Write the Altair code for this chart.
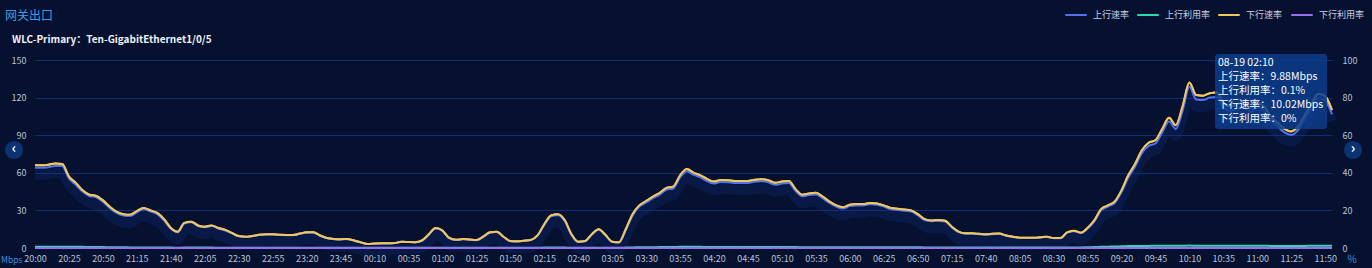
import altair as alt
import pandas as pd

FONT = "Noto Sans CJK SC"

# x tick labels (every 25 minutes, data every 5 minutes from 20:00 to 11:55)
x_labels = ["20:00", "20:25", "20:50", "21:15", "21:40", "22:05", "22:30", "22:55",
            "23:20", "23:45", "00:10", "00:35", "01:00", "01:25", "01:50", "02:15",
            "02:40", "03:05", "03:30", "03:55", "04:20", "04:45", "05:10", "05:35",
            "06:00", "06:25", "06:50", "07:15", "07:40", "08:05", "08:30", "08:55",
            "09:20", "09:45", "10:10", "10:35", "11:00", "11:25", "11:50"]

# 下行速率 (Mbps)
down_rate = [
    66, 66, 66.5, 67.5, 67, 57, 52, 46, 42.5, 41.5, 38, 33, 29, 27, 26.5, 29.5,
    32, 30, 28, 23, 16, 13, 20, 21, 18, 17, 18, 16, 14.5, 12, 9.5, 9,
    9.6, 10.5, 11, 11, 10.5, 10.4, 10.4, 11.5, 12.5, 12.5, 10, 8, 7.2, 7, 7.2, 6,
    4.5, 3.2, 3.5, 3.7, 3.7, 4, 5, 4.8, 4.6, 6, 11, 16, 14, 8, 6.5, 7.2,
    6.8, 6.4, 9, 12.5, 13, 9, 5.5, 5.3, 5.8, 6.4, 10.02, 19, 26, 27, 22.3, 11,
    5, 5.5, 11, 15, 10.5, 5, 4.5, 15, 27, 34, 37.5, 41, 44, 48, 49, 58,
    63, 60, 58, 55, 53, 54.3, 54, 53.5, 53.5, 53.5, 54.5, 54.8, 54, 52, 53, 53.5,
    47, 42.5, 43.5, 44, 41, 37, 34, 32.5, 34.5, 35.1, 35.1, 36, 35.5, 34, 32, 31.3,
    30.7, 30, 27, 23, 22, 22.3, 21.8, 17, 13, 11.7, 11.7, 11.3, 10.9, 11.3, 11.5, 10,
    9, 8.2, 8.2, 8.2, 8.5, 9, 8, 8, 12.5, 13.8, 12.2, 16, 22, 31, 34, 37,
    46, 58, 67, 78, 84, 86, 95, 104, 98, 113, 132, 122, 121.5, 123.5, 124, 115.7,
    113, 114.5, 116.5, 112, 115.7, 113, 105, 100, 95, 93, 97, 106, 115, 123, 121, 110,
]

# 上行速率 (Mbps)
up_rate = [
    64, 64, 64.5, 65.5, 65.5, 55.5, 50.5, 45, 41.5, 40.5, 37, 32, 28, 26, 25.5, 28.5,
    31, 29, 27, 22, 15.5, 12.5, 19.5, 20.5, 17.5, 16.5, 17.5, 15.5, 14, 11.7, 9.3, 8.8,
    9.4, 10.3, 10.8, 10.8, 10.3, 10.2, 10.2, 11.3, 12.2, 12.2, 9.8, 7.8, 7, 6.8, 7, 5.8,
    4.4, 3.1, 3.4, 3.6, 3.6, 3.9, 4.9, 4.7, 4.5, 5.8, 10.7, 15.5, 13.6, 7.8, 6.3, 7,
    6.6, 6.2, 8.8, 12.2, 12.7, 8.8, 5.4, 5.2, 5.7, 6.3, 9.88, 18.4, 25.2, 26.2, 21.6, 10.7,
    4.9, 5.4, 10.7, 14.6, 10.2, 4.9, 4.4, 14.5, 26, 33, 36.3, 39.7, 42.6, 46.5, 47.5, 56.3,
    61.2, 58.3, 56.3, 53.3, 51.4, 52.7, 52.4, 51.9, 51.9, 51.9, 52.9, 53.2, 52.4, 50.4, 51.4, 51.9,
    45.6, 41.2, 42.2, 42.6, 39.7, 35.9, 33, 31.5, 33.4, 34, 34, 34.9, 34.4, 33, 31, 30.3,
    29.7, 29.1, 26.2, 22.3, 21.3, 21.6, 21.1, 16.5, 12.6, 11.4, 11.4, 11, 10.6, 11, 11.2, 9.7,
    8.8, 8, 8, 8, 8.3, 8.8, 7.8, 7.8, 12.2, 13.4, 11.9, 15.5, 21.3, 30, 33, 35.9,
    44.6, 56.3, 65, 75.7, 81.5, 83.4, 92.2, 101, 95, 109.6, 128.7, 118.5, 118, 120, 120.5, 112.3,
    109.6, 111, 113, 108.7, 112.3, 109.6, 101.9, 97, 92.2, 90.2, 94.1, 102.8, 111.6, 119.4, 117.4, 106.7,
]

# 上行利用率 (%)
up_util = [
    0.7, 0.7, 0.7, 0.7, 0.7, 0.6, 0.6, 0.6, 0.5, 0.5, 0.5, 0.4, 0.4, 0.4, 0.3, 0.3,
    0.3, 0.3, 0.2, 0.2, 0.2, 0.1, 0.2, 0.2, 0.2, 0.2, 0.2, 0.1, 0.1, 0.1, 0.1, 0.1,
    0.1, 0.1, 0.1, 0.1, 0.1, 0.1, 0.1, 0.1, 0.1, 0.1, 0.1, 0.1, 0.1, 0.1, 0.1, 0.1,
    0.1, 0.1, 0.1, 0.1, 0.1, 0.1, 0.1, 0.1, 0.1, 0.1, 0.1, 0.1, 0.1, 0.1, 0.1, 0.1,
    0.1, 0.1, 0.1, 0.1, 0.1, 0.1, 0.1, 0.1, 0.1, 0.1, 0.1, 0.2, 0.2, 0.2, 0.2, 0.1,
    0.1, 0.1, 0.1, 0.1, 0.1, 0.1, 0.1, 0.2, 0.3, 0.4, 0.4, 0.4, 0.5, 0.5, 0.5, 0.6,
    0.6, 0.6, 0.6, 0.5, 0.5, 0.5, 0.5, 0.5, 0.5, 0.5, 0.5, 0.5, 0.5, 0.5, 0.5, 0.5,
    0.5, 0.4, 0.4, 0.4, 0.4, 0.4, 0.4, 0.4, 0.4, 0.4, 0.4, 0.4, 0.4, 0.4, 0.4, 0.4,
    0.4, 0.4, 0.4, 0.3, 0.3, 0.3, 0.3, 0.3, 0.3, 0.3, 0.3, 0.3, 0.3, 0.3, 0.3, 0.3,
    0.3, 0.3, 0.3, 0.3, 0.3, 0.3, 0.3, 0.3, 0.3, 0.3, 0.3, 0.4, 0.5, 0.6, 0.7, 0.8,
    0.9, 1.0, 1.1, 1.1, 1.1, 1.2, 1.2, 1.2, 1.2, 1.2, 1.3, 1.2, 1.2, 1.2, 1.2, 1.2,
    1.2, 1.2, 1.2, 1.2, 1.2, 1.2, 1.1, 1.1, 1.1, 1.1, 1.1, 1.1, 1.2, 1.2, 1.2, 1.2,
]

# 下行利用率 (%)
down_util = [
    0, 0, 0, 0, 0, 0, 0, 0, 0, 0, 0, 0, 0, 0, 0, 0, 0, 0, 0, 0, 0, 0, 0, 0,
    0, 0, 0, 0, 0, 0, 0, 0, 0, 0, 0, 0, 0, 0, 0, 0, 0, 0, 0, 0, 0, 0, 0, 0,
    0, 0, 0, 0, 0, 0, 0, 0, 0, 0, 0, 0, 0, 0, 0, 0, 0, 0, 0, 0, 0, 0, 0, 0,
    0, 0, 0, 0, 0, 0, 0, 0, 0, 0, 0, 0, 0, 0, 0, 0, 0, 0, 0, 0, 0, 0, 0, 0,
    0, 0, 0, 0, 0, 0, 0, 0, 0, 0, 0, 0, 0, 0, 0, 0, 0, 0, 0, 0, 0, 0, 0, 0,
    0, 0, 0, 0, 0, 0, 0, 0, 0, 0, 0, 0, 0, 0, 0, 0, 0, 0, 0, 0, 0, 0, 0, 0,
    0, 0, 0, 0, 0, 0, 0, 0, 0, 0, 0, 0, 0, 0, 0, 0, 0, 0, 0, 0, 0, 0, 0, 0,
    0, 0, 0, 0, 0, 0, 0, 0, 0, 0, 0, 0, 0, 0, 0, 0, 0, 0, 0, 0, 0, 0, 0, 0,
]

series_names = ["上行速率", "上行利用率", "下行速率", "下行利用率"]
series_colors = ["#4f74f2", "#2fd9b0", "#f1c65c", "#9b6ef0"]

title_text = "网关出口"
subtitle_text = "WLC-Primary：Ten-GigabitEthernet1/0/5"
tooltip_lines = ["08-19 02:10", "上行速率：9.88Mbps", "上行利用率：0.1%",
                 "下行速率：10.02Mbps", "下行利用率：0%"]
left_ticks = [0, 30, 60, 90, 120, 150]
right_ticks = [0, 20, 40, 60, 80, 100]

W, H = 1297, 188
BG = "#06112f"
LABEL = "#b9c3d6"

n = len(down_rate)
df = pd.DataFrame({
    "i": list(range(n)),
    "down": down_rate,
    "up": up_rate,
    "uu": up_util,
    "du": down_util,
})

label_expr = "[" + ",".join("'%s'" % s for s in x_labels) + "][round(datum.value/5)]"

x_axis = alt.Axis(values=list(range(0, n, 5)), labelExpr=label_expr, grid=False,
                  domain=False, ticks=False, labelFontSize=9, labelColor=LABEL,
                  labelFont=FONT, labelPadding=6, title=None, labelFlush=False,
                  labelOverlap=False)
x_scale = alt.Scale(domain=[0, n - 1], nice=False, zero=False)
x_enc = alt.X("i:Q", scale=x_scale, axis=x_axis)

left_scale = alt.Scale(domain=[0, 150], nice=False)
right_scale = alt.Scale(domain=[0, 100], nice=False)

left_axis = alt.Axis(values=left_ticks, grid=True, gridColor="#142d6e", gridWidth=1,
                     domain=False, ticks=False, labelFontSize=9, labelColor=LABEL,
                     labelFont=FONT, labelPadding=9, title=None)
right_axis = alt.Axis(orient="right", values=right_ticks, grid=False, domain=False,
                      ticks=False, labelFontSize=9, labelColor=LABEL, labelFont=FONT,
                      labelPadding=10, title=None)

base = alt.Chart(df)

down_line = base.mark_line(interpolate="monotone", strokeWidth=2, color=series_colors[2]).encode(
    x=x_enc, y=alt.Y("down:Q", scale=left_scale, axis=left_axis))
glow = base.mark_line(interpolate="monotone", strokeWidth=10, color="#12379a",
                      opacity=0.22, yOffset=7).encode(
    x=x_enc, y=alt.Y("up:Q", scale=left_scale, axis=None))
up_line = base.mark_line(interpolate="monotone", strokeWidth=2, color=series_colors[0]).encode(
    x=x_enc, y=alt.Y("up:Q", scale=left_scale, axis=None))
down_line2 = base.mark_line(interpolate="monotone", strokeWidth=2, color=series_colors[2]).encode(
    x=x_enc, y=alt.Y("down:Q", scale=left_scale, axis=None))
uu_line = base.mark_line(interpolate="monotone", strokeWidth=2, color=series_colors[1]).encode(
    x=x_enc, y=alt.Y("uu:Q", scale=right_scale, axis=right_axis))
du_line = base.mark_line(interpolate="monotone", strokeWidth=2, color=series_colors[3]).encode(
    x=x_enc, y=alt.Y("du:Q", scale=right_scale, axis=None))

one = pd.DataFrame({"k": [0]})


def txt(s, x, y, size=10, color="#ffffff", weight="normal", align="left"):
    return alt.Chart(one).mark_text(
        align=align, baseline="middle", font=FONT, fontSize=size, color=color,
        fontWeight=weight).encode(x=alt.value(x), y=alt.value(y), text=alt.value(s))


decos = []
# titles
decos.append(txt(title_text, -30, -44, size=12, color="#3f9be8"))
decos.append(txt(subtitle_text, -23, -20, size=10, color="#eef2fa", weight="bold"))
# legend
leg_sym_x = [1031, 1103, 1184, 1257]
for k in range(4):
    decos.append(alt.Chart(one).mark_rule(strokeWidth=2, color=series_colors[k], strokeCap="round").encode(
        x=alt.value(leg_sym_x[k]), x2=alt.value(leg_sym_x[k] + 20), y=alt.value(-45)))
    decos.append(txt(series_names[k], leg_sym_x[k] + 27, -45, size=9, color="#c8d0e0"))
# axis units
decos.append(txt("Mbps", -34, 200, size=8.5, color="#3a8fe0"))
decos.append(txt("%", 1317, 200, size=10, color="#3a8fe0", align="center"))
# nav buttons
for bx, ch in [(-21, "‹"), (1318, "›")]:
    decos.append(alt.Chart(one).mark_point(filled=True, size=330, color="#0c3576", opacity=0.95).encode(
        x=alt.value(bx), y=alt.value(90)))
    decos.append(txt(ch, bx, 89, size=14, color="#ffffff", weight="bold", align="center"))
# tooltip
decos.append(alt.Chart(one).mark_rect(color="#0d3d8c", opacity=0.85, cornerRadius=3).encode(
    x=alt.value(1180), x2=alt.value(1292), y=alt.value(-6), y2=alt.value(69)))
for j, line in enumerate(tooltip_lines):
    decos.append(txt(line, 1183, 3 + 14 * j, size=10.5, color="#ffffff"))

chart = alt.layer(down_line, glow, up_line, down_line2, uu_line, du_line, *decos).resolve_scale(
    y="independent"
).properties(
    width=W, height=H,
    padding={"left": 35, "top": 60, "right": 40, "bottom": 20},
    autosize=alt.AutoSizeParams(type="none"),
    background=BG,
).configure_view(stroke=None)

chart.save("out.html", embed_options={"renderer": "svg", "actions": False})
